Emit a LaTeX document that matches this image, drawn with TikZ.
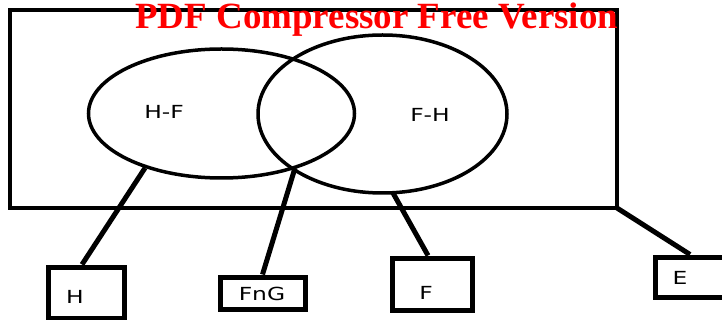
\documentclass[tikz,border=0pt]{standalone}
\usepackage{fontspec}
\setmainfont{DejaVu Sans}
\newfontfamily\titlefont{Liberation Serif}
\usetikzlibrary{shapes.geometric}
\begin{document}
\begin{tikzpicture}[x=1pt,y=-1pt,
  frame/.style={draw,line width=4pt,rectangle,inner sep=0pt},
  setell/.style={draw,line width=3.5pt,ellipse,inner sep=0pt},
  box/.style={draw,line width=5pt,rectangle,inner sep=0pt},
  conn/.style={line width=5pt},
  lbl/.style={font=\fontsize{18pt}{20pt}\selectfont,xscale=1.3,inner sep=0pt}]
\useasboundingbox (0,0) rectangle (722,320);
\clip (0,0) rectangle (722,320);
% universe frame
\node[frame,minimum width=607pt,minimum height=198pt] (U) at (313.5,109) {};
% sets
\node[setell,minimum width=266pt,minimum height=129pt] (L) at (221.5,113.5) {};
\node[setell,minimum width=249pt,minimum height=158pt] (R) at (382.5,114) {};
\node[lbl] (hf) at (164,112) {H-F};
\node[lbl] (fh) at (430,115) {F-H};
% boxes
\node[box,minimum width=76pt,minimum height=51pt] (hb) at (86,292.5) {};
\node[box,minimum width=85pt,minimum height=32pt] (gb) at (262.5,293) {};
\node[box,minimum width=80pt,minimum height=52pt] (fb) at (432,284) {};
\node[box,minimum width=80pt,minimum height=40pt] (eb) at (695,277) {};
\node[lbl] (ht) at (75,297) {H};
\node[lbl] (gt) at (262,294) {FnG};
\node[lbl] (ft) at (426,293) {F};
\node[lbl] (et) at (680,278) {E};
% connector ends on the sets
\coordinate (p1) at (145,168);
\coordinate (p2) at (295,168);
\coordinate (p3) at (393,193);
\coordinate (p4) at (617,208);
\draw[conn] (p1) -- ([xshift=-4pt]hb.north);
\draw[conn] (p2) -- (gb.north);
\draw[conn] (p3) -- ([xshift=-4pt]fb.north);
\draw[conn] (p4) -- ([xshift=-5pt]eb.north);
% watermark title
\node[anchor=base west,inner sep=0pt,text=red] (title) at (135,29)
  {\resizebox{483pt}{!}{\titlefont\bfseries\fontsize{36pt}{40pt}\selectfont PDF Compressor Free Version}};
\end{tikzpicture}
\end{document}
